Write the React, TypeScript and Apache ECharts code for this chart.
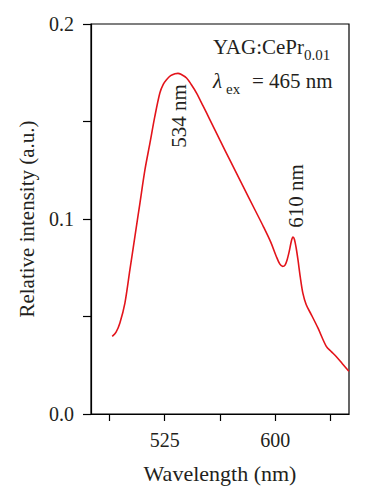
import React, { useEffect, useRef } from "react";
import * as echarts from "echarts";

const wavelengths = [
  489.4, 492, 494.6, 498, 501.4, 504.8, 508.2, 511.6, 515, 518.3, 521.7, 524, 526.2, 529, 532, 534,
  536, 539.8, 543, 546.6, 551, 555.6, 562.3, 570, 578, 586, 592, 597, 600.7, 603, 605, 606.5, 608,
  609.5, 611, 612, 613, 614.2, 615.4, 617, 618.7, 621, 624.4, 629, 634.6, 638, 641.3, 645.5, 649.9,
];
const intensity = [
  0.0398, 0.042, 0.0467, 0.0569, 0.074, 0.0911, 0.1082, 0.1253, 0.139, 0.1526, 0.1646, 0.169, 0.1714,
  0.1735, 0.1745, 0.1747, 0.1742, 0.1723, 0.169, 0.1646, 0.158, 0.151, 0.1407, 0.129, 0.117, 0.105,
  0.096, 0.088, 0.0808, 0.077, 0.0757, 0.0762, 0.079, 0.0835, 0.089, 0.0908, 0.0895, 0.085, 0.079,
  0.07, 0.062, 0.056, 0.051, 0.044, 0.0347, 0.032, 0.0295, 0.0258, 0.0219,
];
const xTickValues = [487.5, 525, 562.5, 600, 637.5];
const xLabelValues = [525, 600];
const yTickValues = [0, 0.05, 0.1, 0.15, 0.2];
const yLabelValues = [0, 0.1, 0.2];

const FONT = "Liberation Serif";
const TXT = "#231f20";

export default function App() {
  const ref = useRef<HTMLDivElement>(null);
  useEffect(() => {
    if (!ref.current) return;
    const chart = echarts.init(ref.current, undefined, { renderer: "svg" });
    const data = wavelengths.map((w, i) => [w, intensity[i]]);
    const txt = (text: string, size: number, extra: any = {}) => ({
      text,
      fontFamily: FONT,
      fontSize: size,
      fill: TXT,
      ...extra,
    });
    chart.setOption({
      animation: false,
      textStyle: { fontFamily: FONT },
      grid: {
        left: 91,
        right: 16,
        top: 24,
        bottom: 86,
        show: true,
        borderColor: "#000",
        borderWidth: 1.2,
        backgroundColor: "transparent",
      },
      xAxis: {
        type: "value",
        min: 475,
        max: 650,
        name: "Wavelength (nm)",
        nameLocation: "middle",
        nameGap: 48,
        nameTextStyle: { fontFamily: FONT, fontSize: 22, color: TXT },
        axisLine: { show: true, lineStyle: { color: "#000", width: 1.2 } },
        axisTick: {
          show: true,
          inside: false,
          length: 7,
          customValues: xTickValues,
          lineStyle: { color: "#000", width: 1.2 },
        },
        axisLabel: {
          customValues: xLabelValues,
          fontFamily: FONT,
          fontSize: 20,
          color: TXT,
          margin: 16,
        },
        splitLine: { show: false },
      },
      yAxis: {
        type: "value",
        min: 0,
        max: 0.2,
        name: "Relative intensity (a.u.)",
        nameLocation: "middle",
        nameGap: 54,
        nameTextStyle: { fontFamily: FONT, fontSize: 21, color: TXT },
        axisLine: { show: true, lineStyle: { color: "#000", width: 1.2 } },
        axisTick: {
          show: true,
          inside: false,
          length: 8,
          customValues: yTickValues,
          lineStyle: { color: "#000", width: 1.2 },
        },
        axisLabel: {
          customValues: yLabelValues,
          formatter: (v: number) => v.toFixed(1),
          fontFamily: FONT,
          fontSize: 20,
          color: TXT,
          margin: 17,
        },
        splitLine: { show: false },
      },
      series: [
        {
          type: "line",
          data,
          smooth: 0.3,
          showSymbol: false,
          lineStyle: { color: "#e3141b", width: 1.6 },
          itemStyle: { color: "#e3141b" },
        },
      ],
      graphic: [
        { type: "text", left: 213, top: 36, style: txt("YAG:CePr", 21) },
        { type: "text", left: 304, top: 47, style: txt("0.01", 15) },
        { type: "text", left: 213, top: 70, style: txt("λ", 21, { fontStyle: "italic" }) },
        { type: "text", left: 226, top: 81, style: txt("ex", 15) },
        { type: "text", left: 252, top: 70, style: txt("= 465 nm", 21) },
        {
          type: "text",
          x: 179,
          y: 116,
          rotation: Math.PI / 2,
          style: txt("534 nm", 21, { align: "center", verticalAlign: "middle" }),
        },
        {
          type: "text",
          x: 296,
          y: 196,
          rotation: Math.PI / 2,
          style: txt("610 nm", 21, { align: "center", verticalAlign: "middle" }),
        },
      ],
    });
    return () => chart.dispose();
  }, []);
  return <div ref={ref} style={{ width: 365, height: 500, position: "absolute", left: 0, top: 0 }} />;
}
